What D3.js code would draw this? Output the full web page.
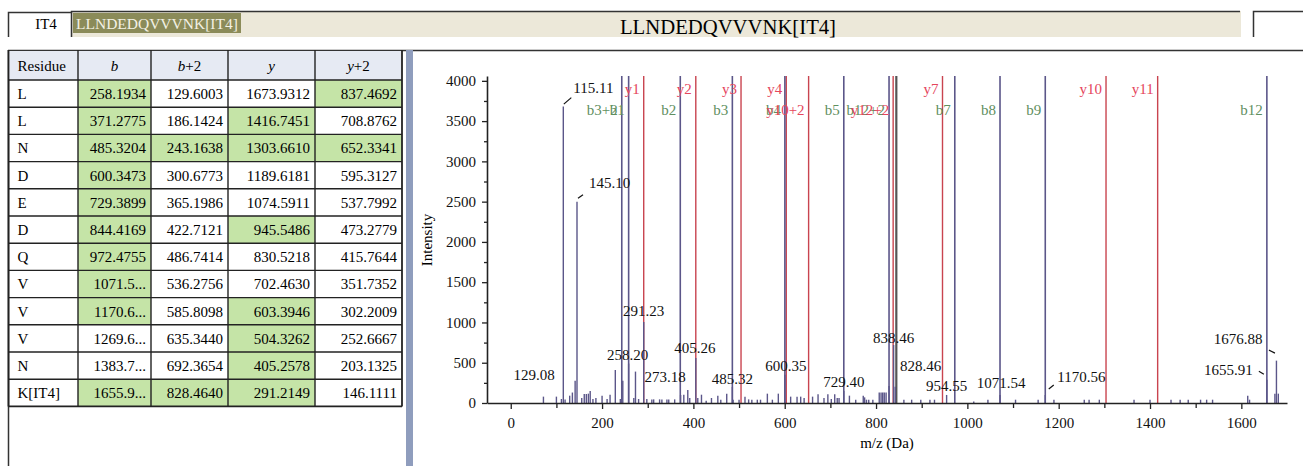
<!DOCTYPE html>
<html>
<head>
<meta charset="utf-8">
<script src="https://cdn.jsdelivr.net/npm/d3@7"></script>
<style>
  body { margin: 0; background: #fff; }
  svg text { font-family: "Liberation Serif", "DejaVu Serif", serif; }
</style>
</head>
<body>
<script>

// ---- table data
var residues = ["L","L","N","D","E","D","Q","V","V","V","N","K[IT4]"];
var bIons  = ["258.1934","371.2775","485.3204","600.3473","729.3899","844.4169","972.4755","1071.5...","1170.6...","1269.6...","1383.7...","1655.9..."];
var b2Ions = ["129.6003","186.1424","243.1638","300.6773","365.1986","422.7121","486.7414","536.2756","585.8098","635.3440","692.3654","828.4640"];
var yIons  = ["1673.9312","1416.7451","1303.6610","1189.6181","1074.5911","945.5486","830.5218","702.4630","603.3946","504.3262","405.2578","291.2149"];
var y2Ions = ["837.4692","708.8762","652.3341","595.3127","537.7992","473.2779","415.7644","351.7352","302.2009","252.6667","203.1325","146.1111"];
// 1 = matched (green cell)
var bMatched  = [1,1,1,1,1,1,1,1,1,0,0,1];
var b2Matched = [0,0,1,0,0,0,0,0,0,0,0,1];
var yMatched  = [0,1,1,0,0,1,0,0,1,1,1,1];
var y2Matched = [1,0,1,0,0,0,0,0,0,0,0,0];

// ---- matched ion markers (label, m/z, series)
var ionLabels = ["b3+2","b1","b2","b3","b4","b5","b12+2","b6","b7","b8","b9","b12",
                 "y1","y2","y3","y4","y7","y10","y11","y10+2","y12+2"];
var ionMz     = [243.1638,258.1934,371.2775,485.3204,600.3473,729.3899,828.4640,844.4169,972.4755,1071.5,1170.6,1655.9,
                 291.2149,405.2578,504.3262,603.3946,945.5486,1303.6610,1416.7451,652.3341,837.4692];
var ionSeries = ["b","b","b","b","b","b","b","p","b","b","b","b",
                 "y","y","y","y","y","y","y","y","y"];

// ---- spectrum peaks [m/z, intensity]
var peaks = [[71.6,79],[100,79],[111,50],[115.11,3680],[119,45],[129.08,91],[135,130],[141,277],[145.10,2500],
  [155.5,62],[161,112],[165.5,112],[170,116],[174,149],[180,50],[186.5,62],[200,91],[211,50],[217.5,103],
  [229,410],[240,50],[245.4,277],[258.20,490],[269.5,62],[273.18,390],[280,50],[291.23,1006],[298,50],
  [309,45],[313,45],[326,45],[331,45],[342,45],[346,45],[359,45],[372,100],[379,103],[387.7,160],[392,62],
  [405.26,560],[409.6,62],[417.7,103],[428,29],[439.6,62],[453.5,91],[460,41],[473,116],[485.32,200],
  [487,41],[500,41],[513,79],[521,45],[528,41],[540,41],[547,41],[562,116],[573,41],[586,116],[600.35,350],
  [613,79],[627,79],[635,79],[642.5,62],[661,79],[673,108],[686,62],[694.5,108],[702,50],[709.5,108],
  [715,62],[719,62],[729.40,149],[741.7,91],[755.5,41],[772,91],[775,70],[779,41],[784,41],[793,41],
  [807,130],[811,130],[814.6,130],[818,130],[822,130],[828.46,210],[838.46,720],[842,203],[861,41],
  [878,41],[898,41],[918,41],[928,41],[954.55,100],[1014,20],[1045,41],[1071.54,100],[1105.5,41],
  [1155,41],[1170.56,100],[1189.6,41],[1256,41],[1266.6,41],[1289,41],[1365,41],[1400,41],[1446,41],
  [1466,41],[1483.7,41],[1510.7,41],[1524,41],[1537,41],[1614,91],[1618,41],[1655.91,290],[1673.5,116],
  [1676.88,526],[1681,116]];

// ---- peak annotations: text, m/z, height
var noteText = ["115.11","145.10","129.08","258.20","291.23","273.18","405.26","485.32","600.35","729.40",
                "838.46","828.46","954.55","1071.54","1170.56","1676.88","1655.91"];
var noteMz   = [115.11,145.10,129.08,258.20,291.23,273.18,405.26,485.32,600.35,729.40,
                838.46,828.46,954.55,1071.54,1170.56,1676.88,1655.91];
var noteInt  = [3680,2500,91,490,1006,390,560,200,350,149,720,210,100,100,100,526,290];

var xTicks = [0,200,400,600,800,1000,1200,1400,1600];
var yTicks = [0,500,1000,1500,2000,2500,3000,3500,4000];

// label placement (pixels, relative to the peak top)
var noteLayout = {
  "115.11":  {dx: 10, dy: -14, anchor: "start", leader: [0.5,-2.5,8,-9]},
  "145.10":  {dx: 12, dy: -14, anchor: "start", leader: [1,-3.5,6,-7]},
  "129.08":  {dx: -15, dy: -16, anchor: "end"},
  "258.20":  {dx: -1, dy: -4, anchor: "middle"},
  "291.23":  {dx: 0, dy: -6, anchor: "middle"},
  "273.18":  {dx: 9, dy: 10, anchor: "start"},
  "405.26":  {dx: -1, dy: -5, anchor: "middle"},
  "485.32":  {dx: 0, dy: -3, anchor: "middle"},
  "600.35":  {dx: 1, dy: -4, anchor: "middle"},
  "729.40":  {dx: 0, dy: -4, anchor: "middle"},
  "838.46":  {dx: 0, dy: -2, anchor: "middle"},
  "828.46":  {dx: 11, dy: -15, anchor: "start"},
  "954.55":  {dx: 0, dy: -4, anchor: "middle"},
  "1071.54": {dx: 1, dy: -7, anchor: "middle"},
  "1170.56": {dx: 12, dy: -13, anchor: "start", leader: [3.5,-6,8.5,-10]},
  "1676.88": {dx: -14, dy: -17, anchor: "end", leader: [-7.5,-10.5,-1.5,-7.5]},
  "1655.91": {dx: -14, dy: -5, anchor: "end", leader: [-8,-8.5,-3,-5.5]}
};

var svg = d3.select("body").append("svg")
    .attr("width", 1303)
    .attr("height", 466);

// ---------------- header strip
svg.append("path")
    .attr("d", "M8.5,37 V12.5 H71")
    .attr("fill", "none").attr("stroke", "#333").attr("stroke-width", 1.5);
svg.append("text")
    .attr("x", 46).attr("y", 29)
    .attr("text-anchor", "middle")
    .style("font-size", "15px")
    .text("IT4");

svg.append("rect")
    .attr("x", 71).attr("y", 11).attr("width", 1170).attr("height", 26)
    .attr("fill", "#ece8d9");
svg.append("path")
    .attr("d", "M71.5,37 V11.5 H1240")
    .attr("fill", "none").attr("stroke", "#333").attr("stroke-width", 1.5);
svg.append("rect")
    .attr("x", 73).attr("y", 13).attr("width", 168).attr("height", 20)
    .attr("fill", "#8b8b59");
svg.append("text")
    .attr("x", 76).attr("y", 29)
    .attr("fill", "#f3f1e4")
    .style("font-size", "15.5px")
    .text("LLNDEDQVVVNK[IT4]");
svg.append("text")
    .attr("x", 728).attr("y", 34)
    .attr("text-anchor", "middle")
    .style("font-size", "20.7px")
    .text("LLNDEDQVVVNK[IT4]");

svg.append("path")
    .attr("d", "M1253.5,37 V11.5 H1303")
    .attr("fill", "none").attr("stroke", "#333").attr("stroke-width", 1.5);

// long rule + left border of the table panel
svg.append("line")
    .attr("x1", 8).attr("x2", 1303).attr("y1", 50.5).attr("y2", 50.5)
    .attr("stroke", "#333").attr("stroke-width", 1.5);
svg.append("line")
    .attr("x1", 8.5).attr("x2", 8.5).attr("y1", 50).attr("y2", 466)
    .attr("stroke", "#333").attr("stroke-width", 1.5);

// splitter bar
svg.append("rect")
    .attr("x", 406).attr("y", 50).attr("width", 7).attr("height", 416)
    .attr("fill", "#8f9dbd");

// ---------------- table
var colX = [8.5, 78, 151, 228, 315, 402];
var headerTop = 51, headerH = 29, rowH = 27.2;
var table = svg.append("g");

var columns = [
  {vals: residues, match: null},
  {vals: bIons, match: bMatched},
  {vals: b2Ions, match: b2Matched},
  {vals: yIons, match: yMatched},
  {vals: y2Ions, match: y2Matched}
];

table.append("rect")
    .attr("x", colX[0]).attr("y", headerTop)
    .attr("width", colX[5] - colX[0]).attr("height", headerH)
    .attr("fill", "#e6eaf3");

columns.forEach(function(col, c) {
  col.vals.forEach(function(v, i) {
    var top = headerTop + headerH + i * rowH;
    if (col.match && col.match[i]) {
      table.append("rect")
          .attr("x", colX[c]).attr("y", top)
          .attr("width", colX[c+1] - colX[c]).attr("height", rowH)
          .attr("fill", "#c5e4a7");
    }
    table.append("text")
        .attr("x", c == 0 ? colX[c] + 9 : colX[c+1] - 5)
        .attr("y", top + 19)
        .attr("text-anchor", c == 0 ? "start" : "end")
        .style("font-size", "15px")
        .text(v);
  });
});

// header labels
var heads = [["Residue",""],["b",""],["b","+2"],["y",""],["y","+2"]];
heads.forEach(function(h, c) {
  var t = table.append("text")
      .attr("x", c == 0 ? colX[0] + 9 : (colX[c] + colX[c+1]) / 2)
      .attr("y", headerTop + 20)
      .attr("text-anchor", c == 0 ? "start" : "middle")
      .style("font-size", "15px");
  t.append("tspan").style("font-style", c == 0 ? "normal" : "italic").text(h[0]);
  if (h[1]) t.append("tspan").text(h[1]);
});

// grid lines
var tableBottom = headerTop + headerH + residues.length * rowH;
colX.forEach(function(x, c) {
  table.append("line")
      .attr("x1", x).attr("x2", x).attr("y1", headerTop - 1).attr("y2", tableBottom)
      .attr("stroke", "#222").attr("stroke-width", c == 0 || c == 5 ? 1.8 : 1.4);
});
for (var r = 0; r <= residues.length; r++) {
  var yy = headerTop + headerH + r * rowH;
  table.append("line")
      .attr("x1", colX[0]).attr("x2", colX[5]).attr("y1", yy).attr("y2", yy)
      .attr("stroke", "#222").attr("stroke-width", r == residues.length ? 1.8 : 1.4);
}

// ---------------- spectrum
var x = d3.scaleLinear().domain([-52, 1700]).range([487, 1287]);
var y = d3.scaleLinear().domain([0, 4060]).range([403, 76]);

var plot = svg.append("g");

var ions = ionLabels.map(function(l, i) {
  return {label: l, mz: ionMz[i], series: ionSeries[i]};
});
var ionColor = {b: "#5b5689", y: "#c9444f", p: "#555555"};

// red first so coincident blue lines sit on top
var order = ions.slice().sort(function(a, b) {
  var rank = {y: 0, b: 1, p: 2};
  return rank[a.series] - rank[b.series];
});
plot.selectAll(".ion")
    .data(order)
  .enter().append("line")
    .attr("class", "ion")
    .attr("x1", function(d) { return x(d.mz); })
    .attr("x2", function(d) { return x(d.mz); })
    .attr("y1", y.range()[1])
    .attr("y2", y(0))
    .attr("stroke", function(d) { return ionColor[d.series]; })
    .attr("stroke-width", function(d) { return d.series == "p" ? 2.2 : (d.series == "b" ? 1.6 : 1.4); });

// ion labels: singly charged y on first row, rest on second row
plot.selectAll(".ion-label")
    .data(ions.filter(function(d) { return d.series != "p"; }))
  .enter().append("text")
    .attr("class", "ion-label")
    .attr("x", function(d) { return x(d.mz) - 4; })
    .attr("y", function(d) { return (d.series == "y" && d.label.indexOf("+") < 0) ? 94 : 115; })
    .attr("text-anchor", "end")
    .attr("fill", function(d) { return d.series == "y" ? "#e5455c" : "#5f8f5f"; })
    .style("font-size", "15px")
    .text(function(d) { return d.label; });

// peaks
plot.selectAll(".peak")
    .data(peaks)
  .enter().append("line")
    .attr("class", "peak")
    .attr("x1", function(d) { return x(d[0]); })
    .attr("x2", function(d) { return x(d[0]); })
    .attr("y1", y(0))
    .attr("y2", function(d) { return y(d[1]); })
    .attr("stroke", "#5b5689")
    .attr("stroke-width", 1.4);

// peak annotations
noteText.forEach(function(t, i) {
  var lay = noteLayout[t];
  var px = x(noteMz[i]), py = y(noteInt[i]);
  plot.append("text")
      .attr("x", px + lay.dx)
      .attr("y", py + lay.dy)
      .attr("text-anchor", lay.anchor)
      .attr("fill", "#111")
      .style("font-size", "15px")
      .text(t);
  if (lay.leader) {
    plot.append("line")
        .attr("x1", px + lay.leader[0]).attr("y1", py + lay.leader[1])
        .attr("x2", px + lay.leader[2]).attr("y2", py + lay.leader[3])
        .attr("stroke", "#111").attr("stroke-width", 1.2);
  }
});

// axes
var fmt = d3.format("d");
plot.append("g")
    .attr("transform", "translate(487,0)")
    .call(d3.axisLeft(y).tickValues(yTicks).tickFormat(fmt).tickSize(5).tickSizeOuter(0).tickPadding(6));
plot.append("g")
    .attr("transform", "translate(487,0)")
    .call(d3.axisLeft(y).tickValues(d3.range(250, 4000, 500)).tickSize(3).tickFormat(""))
    .select(".domain").remove();

plot.append("g")
    .attr("transform", "translate(0,403)")
    .call(d3.axisBottom(x).tickValues(xTicks).tickFormat(fmt).tickSize(6).tickSizeOuter(0).tickPadding(8));
plot.append("g")
    .attr("transform", "translate(0,403)")
    .call(d3.axisBottom(x).tickValues(d3.range(100, 1700, 200)).tickSize(5).tickFormat(""))
    .select(".domain").remove();

plot.selectAll(".domain").attr("stroke", "#222").attr("stroke-width", 1.6);
plot.selectAll(".tick line").attr("stroke", "#222").attr("stroke-width", 1.3);
plot.selectAll(".tick text")
    .attr("fill", "#111")
    .style("font-family", "Liberation Serif, serif")
    .style("font-size", "15px");

plot.append("text")
    .attr("transform", "translate(432,240) rotate(-90)")
    .attr("text-anchor", "middle")
    .style("font-size", "15px")
    .text("Intensity");

plot.append("text")
    .attr("x", 887).attr("y", 448)
    .attr("text-anchor", "middle")
    .style("font-size", "15px")
    .text("m/z (Da)");

</script>
</body>
</html>
